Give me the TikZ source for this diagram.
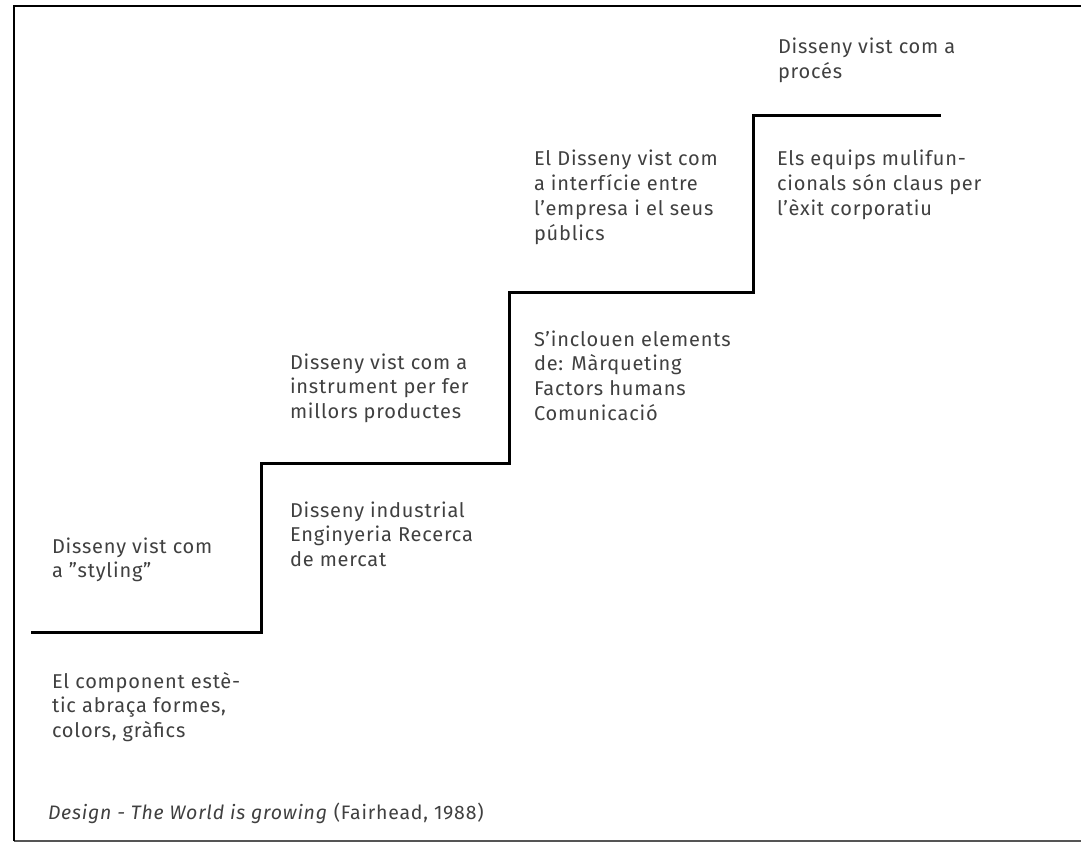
\documentclass[tikz,border=0pt]{standalone}
\usepackage{fontspec}
\setmainfont{Fira Sans}[LetterSpace=4]
\definecolor{txtgrey}{HTML}{404040}
\definecolor{framegrey}{HTML}{555555}
\newcommand\mlines[1]{\vtop{\baselineskip=24.8pt\lineskiplimit=-10pt\halign{##\hfil\cr#1\crcr}}}
\tikzset{
  frameline/.style={line width=2pt, black},
  bottomline/.style={line width=2pt, framegrey},
  stair/.style={line width=3pt, black, line join=miter},
  lbl/.style={anchor=base west, inner sep=0pt, outer sep=0pt, text=txtgrey, font=\fontsize{20}{24.8}\selectfont},
  caplbl/.style={lbl, font=\fontsize{19.5}{24}\selectfont},
}
\begin{document}
\begin{tikzpicture}[x=1pt, y=-1pt]
\useasboundingbox (0,0) rectangle (1081,842);
\fill[white] (0,0) rectangle (1081,842);
% frame
\coordinate (fbl) at (14,841);
\coordinate (ftl) at (14,6);
\coordinate (ftr) at (1095,6);
\coordinate (fbl2) at (14,840.5);
\coordinate (fbr) at (1095,840.5);
\draw[bottomline] (fbl2) -- (fbr);
\draw[frameline] (fbl) -- (ftl) -- (ftr);
% stairs
\coordinate (s0) at (31,632);
\coordinate (s1) at (261,632);
\coordinate (s2) at (261,463);
\coordinate (s3) at (509,463);
\coordinate (s4) at (509,292);
\coordinate (s5) at (753,292);
\coordinate (s6) at (753,116);
\coordinate (s7) at (941,116);
\draw[stair] (s0) -- (s1) -- (s2) -- (s3) -- (s4) -- (s5) -- (s6) -- (s7);
% labels
\node[lbl] (t1a) at (52,553) {\mlines{Disseny vist com\cr a ”styling”}};
\node[lbl] (t1b) at (52,688) {\mlines{El component estè-\cr tic abraça formes,\cr colors, gràfics}};
\node[lbl] (t2a) at (290,369) {\mlines{Disseny vist com a\cr instrument per fer\cr millors productes}};
\node[lbl] (t2b) at (290,517) {\mlines{Disseny industrial\cr Enginyeria Recerca\cr de mercat}};
\node[lbl] (t3a) at (534,166) {\mlines{El Disseny vist com\cr a interfície entre\cr l’empresa i el seus\cr públics}};
\node[lbl] (t3b) at (534,346) {\mlines{S’inclouen elements\cr de: Màrqueting\cr Factors humans\cr Comunicació}};
\node[lbl] (t4a) at (778,54) {\mlines{Disseny vist com a\cr procés}};
\node[lbl] (t4b) at (777,166) {\mlines{Els equips mulifun-\cr cionals són claus per\cr l’èxit corporatiu}};
\node[caplbl] (cap) at (48,819) {\textit{Design - The World is growing} (Fairhead, 1988)};
\end{tikzpicture}
\end{document}
